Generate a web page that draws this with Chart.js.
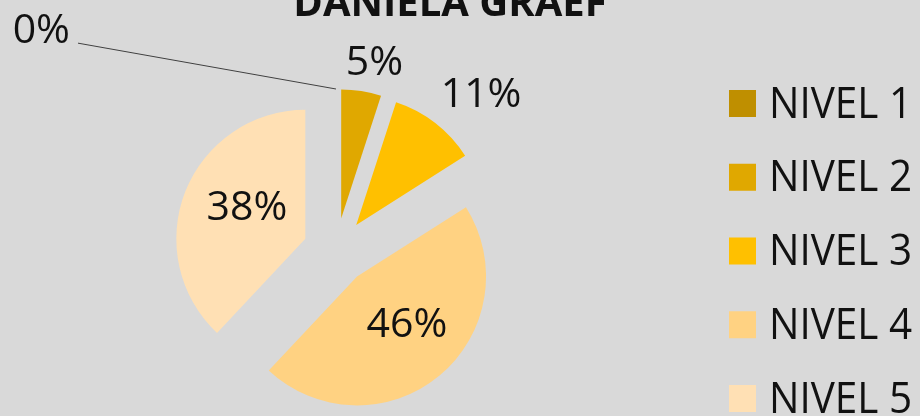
<!DOCTYPE html>
<html>
<head>
<meta charset="utf-8">
<script src="https://cdn.jsdelivr.net/npm/chart.js@4/dist/chart.umd.min.js"></script>
<style>
html, body { margin: 0; padding: 0; background: #d9d9d9; overflow: hidden; }
#wrap { width: 920px; height: 416px; position: relative; }
</style>
</head>
<body>
<div id="wrap"><canvas id="chart" width="920" height="416"></canvas></div>
<script>
const chartTitle = 'DANIELA GRAEF';
const levelLabels = ['NIVEL 1', 'NIVEL 2', 'NIVEL 3', 'NIVEL 4', 'NIVEL 5'];
const levelPercents = [0, 5, 11, 46, 38];
const levelColors = ['#bf8f00', '#e0a800', '#ffc000', '#ffd282', '#ffe0b4'];

const EXPLODE = 33;   // px every slice is pulled away from the centre
const FONT = '"Open Sans", "DejaVu Sans", sans-serif';
const TEXT = '#111111';

// excel style explode: move each arc straight out along its mid angle
// (chart.js's own offset also grows the radius, which the picture doesn't)
const explode = {
    id: 'explode',
    afterDatasetUpdate(chart, args) {
        args.meta.data.forEach(arc => {
            const mid = (arc.startAngle + arc.endAngle) / 2;
            arc.x += Math.cos(mid) * EXPLODE;
            arc.y += Math.sin(mid) * EXPLODE;
        });
    }
};

const titlePlugin = {
    id: 'cutTitle',
    afterDraw(chart) {
        const ctx = chart.ctx;
        ctx.save();
        ctx.font = 'bold 40px ' + FONT;
        ctx.fillStyle = TEXT;
        ctx.textAlign = 'center';
        ctx.textBaseline = 'alphabetic';
        ctx.fillText(chartTitle, 450, 16);
        ctx.restore();
    }
};

// percentage labels, placed round each arc's mid angle from the pie centre
const sliceLabels = {
    id: 'sliceLabels',
    afterDatasetsDraw(chart, args, opts) {
        const ctx = chart.ctx;
        const meta = chart.getDatasetMeta(0);
        const R = meta.controller.outerRadius;
        const area = chart.chartArea;
        const cx = (area.left + area.right) / 2;
        const cy = (area.top + area.bottom) / 2;
        ctx.save();
        ctx.font = '41px ' + FONT;
        ctx.fillStyle = TEXT;
        ctx.textAlign = 'center';
        ctx.textBaseline = 'alphabetic';
        meta.data.forEach((arc, i) => {
            const p = opts.place[i];
            const mid = (arc.startAngle + arc.endAngle) / 2;
            const a = mid + p.turn * Math.PI / 180;
            const x = cx + Math.cos(a) * R * p.dist;
            const y = cy + Math.sin(a) * R * p.dist;
            const text = levelPercents[i] + '%';
            if (p.leader) {
                const w = ctx.measureText(text).width;
                ctx.beginPath();
                ctx.moveTo(x + w / 2 + 8, y + 15);
                ctx.lineTo(arc.x + Math.cos(mid) * R, arc.y + Math.sin(mid) * R);
                ctx.strokeStyle = '#404040';
                ctx.lineWidth = 1;
                ctx.stroke();
            }
            ctx.fillText(text, x, y + 15);
        });
        ctx.restore();
    }
};

const sideLegend = {
    id: 'sideLegend',
    afterDraw(chart, args, opts) {
        const ctx = chart.ctx;
        const colors = chart.data.datasets[0].backgroundColor;
        ctx.save();
        ctx.font = '44px ' + FONT;
        ctx.textBaseline = 'alphabetic';
        ctx.textAlign = 'left';
        chart.data.labels.forEach((lab, i) => {
            const y = opts.top + i * opts.step;
            ctx.fillStyle = colors[i];
            ctx.fillRect(opts.left, y - 13.5, 27, 27);
            ctx.fillStyle = TEXT;
            ctx.fillText(lab, opts.left + 40, y + 14, 143);
        });
        ctx.restore();
    }
};

new Chart(document.getElementById('chart'), {
    type: 'pie',
    data: {
        labels: levelLabels,
        datasets: [{
            data: levelPercents,
            backgroundColor: levelColors,
            borderWidth: 0,
            radius: 129
        }]
    },
    options: {
        responsive: false,
        animation: false,
        events: [],
        layout: { padding: { left: 176, right: 424, top: 100, bottom: 14 } },
        plugins: {
            legend: { display: false },
            tooltip: { enabled: false },
            sliceLabels: {
                place: [
                    { dist: 2.864, turn: -52.9, leader: true },
                    { dist: 1.51, turn: 2.4 },
                    { dist: 1.668, turn: 4.6 },
                    { dist: 0.778, turn: -5.4 },
                    { dist: 0.777, turn: 5.7 }
                ]
            },
            sideLegend: { left: 729, top: 103.5, step: 73.75 }
        }
    },
    plugins: [explode, sliceLabels, sideLegend, titlePlugin]
});
</script>
</body>
</html>
